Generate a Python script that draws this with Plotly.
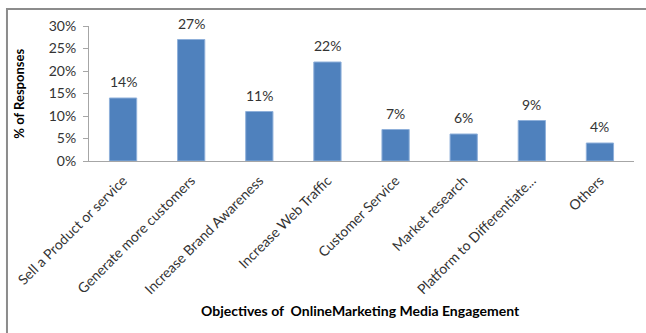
import plotly.graph_objects as go

objectives = [
    "Sell a Product or service",
    "Generate more customers",
    "Increase Brand Awareness",
    "Increase Web Traffic",
    "Customer Service",
    "Market research",
    "Platform to Differentiate...",
    "Others",
]
responses = [0.14, 0.27, 0.11, 0.22, 0.07, 0.06, 0.09, 0.04]
y_ticks = [0, 0.05, 0.10, 0.15, 0.20, 0.25, 0.30]
y_tick_labels = ["0%", "5%", "10%", "15%", "20%", "25%", "30%"]

FONT = "Lato, 'Open Sans', sans-serif"
TEXT = "#333333"

fig = go.Figure(
    go.Bar(
        x=objectives,
        y=responses,
        marker=dict(color="#4F81BD", line=dict(color="#8FB0DA", width=1)),
        hoverinfo="x+y",
    )
)

# Value labels sitting above each bar
value_labels = [
    dict(
        x=cat, y=val, xref="x", yref="y",
        text=f"{val:.0%}",
        showarrow=False,
        xanchor="center", yanchor="bottom",
        yshift=6,
        font=dict(family=FONT, size=14, color=TEXT),
    )
    for cat, val in zip(objectives, responses)
]

# Chart frame (top and left edges visible)
fig.add_shape(
    type="path",
    xref="paper", yref="paper",
    path="M -0.1505 -1.3 L -0.1505 1.126 L 1.1 1.126",
    line=dict(color="#8C8C8C", width=2),
)

fig.update_layout(
    width=646,
    height=333,
    margin=dict(l=89, r=12, t=26, b=172),
    paper_bgcolor="white",
    plot_bgcolor="white",
    bargap=0.6,
    showlegend=False,
    font=dict(family=FONT, size=14, color=TEXT),
    xaxis=dict(
        tickangle=-45,
        showline=True,
        linecolor="#A6A6A6",
        linewidth=1,
        ticks="",
        ticklabelstandoff=5,
        tickfont=dict(family=FONT, size=14, color=TEXT),
    ),
    yaxis=dict(
        range=[0, 0.30],
        tickvals=y_ticks,
        ticktext=y_tick_labels,
        showgrid=False,
        zeroline=False,
        showline=True,
        linecolor="#A6A6A6",
        linewidth=1,
        ticks="outside",
        ticklen=5,
        tickcolor="#A6A6A6",
        ticklabelstandoff=4,
        tickfont=dict(family=FONT, size=14, color=TEXT),
    ),
    annotations=value_labels + [
        dict(
            text="<b>Objectives of&nbsp; OnlineMarketing Media Engagement</b>",
            xref="paper", yref="paper",
            x=0.499, y=-1.104,
            showarrow=False,
            xanchor="center", yanchor="middle",
            font=dict(family=FONT, size=14, color="black"),
        ),
        dict(
            text="<b>% of Responses</b>",
            xref="paper", yref="paper",
            x=-0.13, y=0.5,
            textangle=-90,
            showarrow=False,
            xanchor="center", yanchor="middle",
            font=dict(family=FONT, size=13, color="black"),
        ),
    ],
)

fig.write_html("out.html")
